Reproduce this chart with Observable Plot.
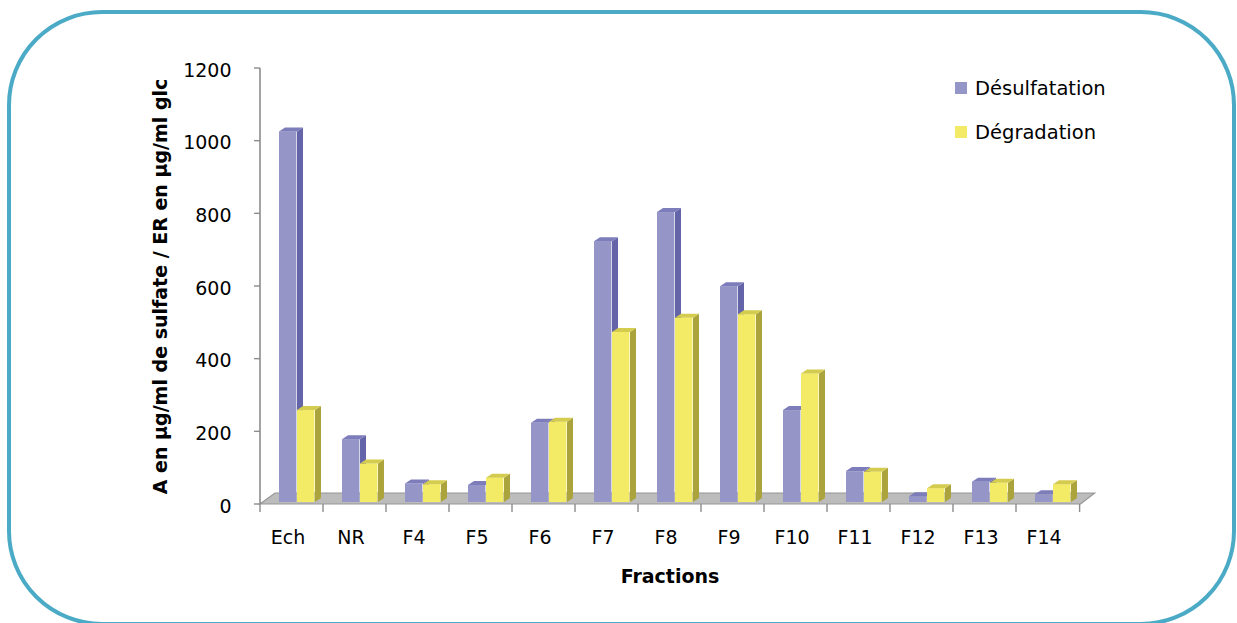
<!DOCTYPE html>
<html>
<head>
<meta charset="utf-8">
<script src="https://cdn.jsdelivr.net/npm/d3@7"></script>
<script src="https://cdn.jsdelivr.net/npm/@observablehq/plot@0.6"></script>
<style>
  html, body { margin: 0; padding: 0; background: #fff; overflow: hidden; }
  #wrap { position: relative; width: 1237px; height: 623px; overflow: hidden; font-family: "DejaVu Sans", sans-serif; }
  #border { position: absolute; left: 7px; top: 10px; width: 1229px; height: 616px; box-sizing: border-box;
            border: 4px solid #4BABC6; border-radius: 95px; }
  #chart { position: absolute; left: 0; top: 0; }
  #legend { position: absolute; left: 955px; top: 76px; font-size: 19.5px; color: #000; }
  .item { display: flex; align-items: center; height: 24px; margin-bottom: 20px; }
  .sw { width: 12px; height: 12px; margin-right: 8px; }
</style>
</head>
<body>
<div id="wrap">
  <div id="border"></div>
  <div id="chart"></div>
  <div id="legend"></div>
</div>
<script>
const categories = ["Ech","NR","F4","F5","F6","F7","F8","F9","F10","F11","F12","F13","F14"];
const desulfatation = [1020,173,51,47,218,718,798,594,253,85,16,56,21];
const degradation = [253,106,49,67,221,468,507,517,354,83,38,53,49];
const yTicks = [0,200,400,600,800,1000,1200];
const seriesNames = ["Désulfatation","Dégradation"];
const xTitle = "Fractions";
const yTitle = "A en µg/ml de sulfate / ER en µg/ml glc";

const colors = {
  d: {front: "#9595C7", side: "#6464A9", top: "#7D7DBB"},
  g: {front: "#F3EA66", side: "#ABA33B", top: "#D4CC4F"}
};

const W = 1237, H = 623;
const mL = 256, mR = 154, mT = 68, mB = 119;
const bw = (W - mL - mR) / categories.length;
const barW = 18, off1 = 19, off2 = 37, lift = 2, ddx = 6, ddy = 4;

const rowsD = categories.map((c, i) => ({cat: c, v: desulfatation[i]}));
const rowsG = categories.map((c, i) => ({cat: c, v: degradation[i]}));

function poly(g, pts, fill) {
  g.append("polygon").attr("points", pts.map(p => p.join(",")).join(" ")).attr("fill", fill);
}

function faces(vals, offset, col) {
  return (index, scales) => {
    const g = d3.create("svg:g");
    categories.forEach((c, i) => {
      const x0 = scales.x(c) + offset, x1 = x0 + barW;
      const yt = scales.y(vals[i]) - lift, yb = scales.y(0) - lift;
      poly(g, [[x1, yt], [x1 + ddx, yt - ddy], [x1 + ddx, yb - ddy], [x1, yb]], col.side);
      poly(g, [[x0, yt], [x0 + ddx, yt - ddy], [x1 + ddx, yt - ddy], [x1, yt]], col.top);
    });
    return g.node();
  };
}

function floorAndAxes(index, scales) {
  const g = d3.create("svg:g");
  const x0 = scales.x(categories[0]);
  const x1 = scales.x(categories[categories.length - 1]) + bw;
  const y0 = scales.y(0);
  g.append("polygon")
    .attr("points", [[x0, y0], [x1 + 1, y0], [x1 + 15, y0 - 11], [x0 + 15, y0 - 11]].map(p => p.join(",")).join(" "))
    .attr("fill", "#BCBCBC").attr("stroke", "#969696").attr("stroke-width", 1.2);
  g.append("line").attr("x1", x0).attr("x2", x0).attr("y1", scales.y(yTicks[yTicks.length - 1])).attr("y2", y0)
    .attr("stroke", "#8C8C8C").attr("stroke-width", 1.6);
  yTicks.forEach(t => {
    g.append("line").attr("x1", x0 - 6).attr("x2", x0).attr("y1", scales.y(t)).attr("y2", scales.y(t))
      .attr("stroke", "#8C8C8C").attr("stroke-width", 1.4);
  });
  for (let i = 0; i <= categories.length; i++) {
    const x = i < categories.length ? scales.x(categories[i]) : x1;
    g.append("line").attr("x1", x).attr("x2", x).attr("y1", y0).attr("y2", y0 + 8)
      .attr("stroke", "#8C8C8C").attr("stroke-width", 1.4);
  }
  return g.node();
}

const chart = Plot.plot({
  width: W, height: H,
  marginLeft: mL, marginRight: mR, marginTop: mT, marginBottom: mB,
  style: {fontFamily: "DejaVu Sans, sans-serif", fontSize: "19px", background: "transparent", color: "#000", overflow: "visible"},
  x: {type: "band", domain: categories, padding: 0, axis: null},
  y: {domain: [0, 1200], axis: null},
  marks: [
    floorAndAxes,
    Plot.barY(rowsD, {x: "cat", y: "v", fill: colors.d.front, insetLeft: off1, insetRight: bw - off1 - barW, dy: -lift}),
    faces(desulfatation, off1, colors.d),
    Plot.barY(rowsG, {x: "cat", y: "v", fill: colors.g.front, insetLeft: off2, insetRight: bw - off2 - barW, dy: -lift}),
    faces(degradation, off2, colors.g),
    Plot.axisY({ticks: yTicks, tickFormat: d => String(d), tickSize: 0, tickPadding: 25, label: null, fontSize: 19, dy: 2}),
    Plot.text(categories, {x: d => d, frameAnchor: "bottom", dy: 33, dx: -4, lineAnchor: "middle", fontSize: 19}),
    Plot.text([xTitle], {frameAnchor: "bottom", dy: 72, lineAnchor: "middle", fontSize: 19, fontWeight: "bold"}),
    Plot.text([yTitle], {frameAnchor: "left", dx: -96, rotate: -90, lineAnchor: "middle", textAnchor: "middle", fontSize: 19, fontWeight: "bold"})
  ]
});
document.getElementById("chart").appendChild(chart);

const legend = document.getElementById("legend");
[[seriesNames[0], colors.d.front], [seriesNames[1], colors.g.front]].forEach(([name, col]) => {
  const it = document.createElement("div");
  it.className = "item";
  const sw = document.createElement("span");
  sw.className = "sw";
  sw.style.background = col;
  const tx = document.createElement("span");
  tx.textContent = name;
  it.appendChild(sw); it.appendChild(tx);
  legend.appendChild(it);
});
</script>
</body>
</html>
